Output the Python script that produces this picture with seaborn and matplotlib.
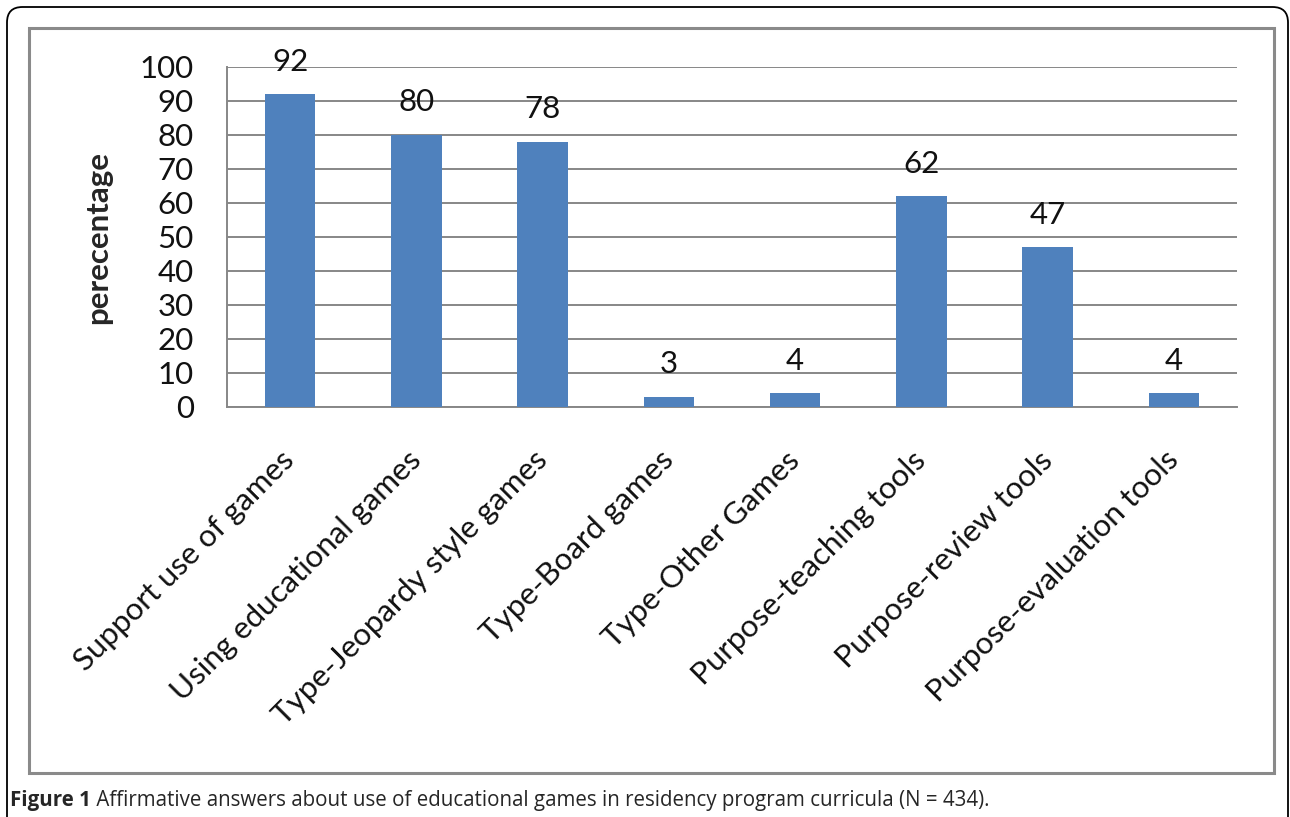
import matplotlib
matplotlib.use("Agg")
import matplotlib.pyplot as plt
from matplotlib.patches import FancyBboxPatch, Rectangle
import seaborn as sns
import pandas as pd

categories = [
    "Support use of games",
    "Using educational games",
    "Type-Jeopardy style games",
    "Type-Board games",
    "Type-Other Games",
    "Purpose-teaching tools",
    "Purpose-review tools",
    "Purpose-evaluation tools",
]
percentages = [92, 80, 78, 3, 4, 62, 47, 4]
y_ticks = [0, 10, 20, 30, 40, 50, 60, 70, 80, 90, 100]
y_label = "perecentage"
caption_bold = "Figure 1"
caption_rest = " Affirmative answers about use of educational games in residency program curricula (N = 434)."

sns.set_style("white")
plt.rcParams["font.family"] = ["Lato", "DejaVu Sans"]

BAR = "#4F81BD"
GRID = "#878787"
TXT = "#111111"

fig = plt.figure(figsize=(12.9, 8.17), dpi=100)
fig.patch.set_facecolor("white")

W, H = 1290, 817

# outer rounded frame (runs past the bottom edge) and inner chart-area frame
outer = FancyBboxPatch((7 / W, -30 / H), 1281 / W, 840 / H,
                       boxstyle="round,pad=0,rounding_size=0.012",
                       transform=fig.transFigure, fill=False,
                       edgecolor="black", linewidth=1.3, mutation_aspect=W / H,
                       clip_on=False)
fig.patches.append(outer)
inner = Rectangle((29 / W, 1 - 773 / H), (1274 - 29) / W, (773 - 28) / H,
                  transform=fig.transFigure, fill=False,
                  edgecolor="#8a8a8a", linewidth=2.2)
fig.patches.append(inner)

ax = fig.add_axes([227 / W, 1 - 407 / H, (1237 - 227) / W, (407 - 67) / H])

df = pd.DataFrame({"category": categories, "value": percentages})
sns.barplot(data=df, x="category", y="value", color=BAR, saturation=1,
            width=0.4, linewidth=0, ax=ax, zorder=3)

ax.set_ylim(0, 100)
ax.set_xlim(-0.5, len(categories) - 0.5)
ax.set_yticks(y_ticks)
ax.yaxis.grid(True, color=GRID, linewidth=1.4, zorder=0)
ax.set_axisbelow(True)

for s in ["top", "right"]:
    ax.spines[s].set_visible(False)
for s in ["left", "bottom"]:
    ax.spines[s].set_color(GRID)
    ax.spines[s].set_linewidth(1.4)

ax.tick_params(axis="y", which="major", length=10, width=1.4, color=GRID,
               direction="out", pad=14, labelsize=22.5, labelcolor=TXT)
ax.tick_params(axis="x", which="major", length=0, pad=35, labelsize=22.5,
               labelcolor=TXT)
ax.set_yticklabels([str(t) for t in y_ticks])
ax.set_xticks(range(len(categories)))
ax.set_xticklabels(categories, rotation=45, ha="right", va="center",
                   rotation_mode="anchor")

ax.set_xlabel("")
ax.set_ylabel(y_label, fontsize=22.5, fontweight="bold", labelpad=20)

for i, v in enumerate(percentages):
    ax.annotate(str(v), xy=(i, v), xytext=(0, 17), textcoords="offset points",
                ha="center", va="baseline", fontsize=22.5, color=TXT)

cap = fig.text(10 / W, 1 - 806 / H, caption_bold, fontsize=14.8, fontweight="bold",
               family=["Open Sans", "DejaVu Sans"], ha="left", va="baseline")
fig.canvas.draw()
ax.annotate(caption_rest, xy=(1, 0), xycoords=cap, ha="left", va="bottom",
            fontsize=14.8, family=["Open Sans", "DejaVu Sans"],
            annotation_clip=False)

fig.savefig("out.png", dpi=100)
